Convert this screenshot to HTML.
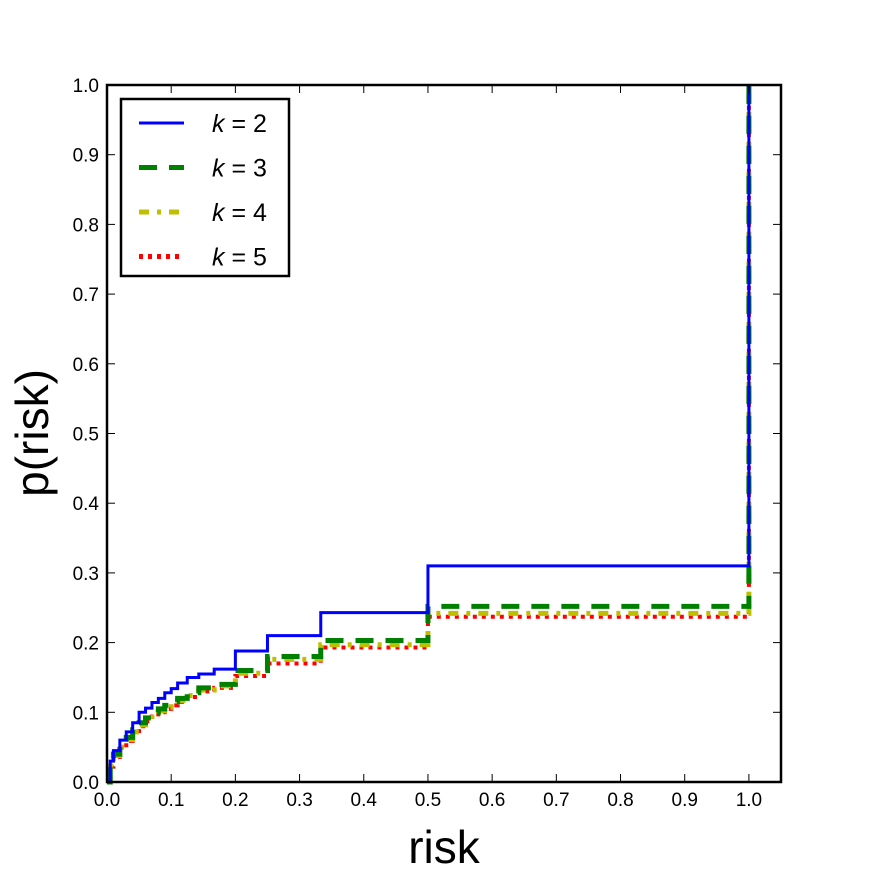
<!DOCTYPE html>
<html><head><meta charset="utf-8"><style>
body{margin:0;background:#fff;}
svg text{font-family:"Liberation Sans",sans-serif;}
</style></head><body>
<svg id="chart" width="869" height="871">
<g id="plot"></g>
</svg>
<script>
const xTicks=[0,0.1,0.2,0.3,0.4,0.5,0.6,0.7,0.8,0.9,1.0];
const yTicks=[0,0.1,0.2,0.3,0.4,0.5,0.6,0.7,0.8,0.9,1.0];
const seriesNames=["k=2","k=3","k=4","k=5"];
const xs2=[0,0.005,0.01,0.02,0.03,0.04,0.05,0.06,0.07,0.08,0.09,0.1,0.11,0.125,0.143,0.167,0.2,0.25,0.333,0.5,1.0];
const ys2=[0,0.03,0.045,0.06,0.072,0.085,0.1,0.106,0.114,0.12,0.128,0.134,0.142,0.15,0.155,0.162,0.188,0.21,0.243,0.31,1.0];
const xs3=[0,0.005,0.01,0.02,0.03,0.04,0.05,0.06,0.07,0.08,0.09,0.1,0.11,0.125,0.143,0.167,0.2,0.25,0.333,0.5,1.0];
const ys3=[0,0.025,0.04,0.052,0.064,0.075,0.085,0.092,0.1,0.105,0.11,0.115,0.12,0.128,0.135,0.14,0.16,0.18,0.203,0.252,1.0];
const xs4=[0,0.005,0.01,0.02,0.03,0.04,0.05,0.06,0.07,0.08,0.09,0.1,0.11,0.125,0.143,0.167,0.2,0.25,0.333,0.5,1.0];
const ys4=[0,0.023,0.038,0.05,0.061,0.072,0.082,0.09,0.097,0.102,0.107,0.112,0.117,0.124,0.132,0.138,0.156,0.176,0.197,0.242,1.0];
const xs5=[0,0.005,0.01,0.02,0.03,0.04,0.05,0.06,0.07,0.08,0.09,0.1,0.11,0.125,0.143,0.167,0.2,0.25,0.333,0.5,1.0];
const ys5=[0,0.022,0.036,0.048,0.059,0.07,0.08,0.087,0.094,0.1,0.105,0.11,0.115,0.122,0.13,0.135,0.152,0.17,0.193,0.237,1.0];
const allX=[xs2,xs3,xs4,xs5], allY=[ys2,ys3,ys4,ys5];
const colors=["#0000ff","#008000","#bfbf00","#ff0000"];
const dashes=["none","18,12","10,8,4,8","4,5"];
const widths=[3,5,5,4];
const L=107,R=781,T=85,B=782;
const xScale=v=>L+v/1.05*(R-L);
const yScale=v=>B-v*(B-T);
const NS="http://www.w3.org/2000/svg";
const g=document.getElementById('plot');
function mk(tag,attrs,parent){const e=document.createElementNS(NS,tag);for(const k in attrs)e.setAttribute(k,attrs[k]);(parent||g).appendChild(e);return e;}
for(let s=3;s>=0;s--){
 const X=allX[s],Y=allY[s];let d="M"+xScale(X[0])+","+yScale(Y[0]);
 for(let i=1;i<X.length;i++){d+=" L"+xScale(X[i])+","+yScale(Y[i-1])+" L"+xScale(X[i])+","+yScale(Y[i]);}
 const p=mk('path',{d:d,fill:'none',stroke:colors[s],'stroke-width':widths[s],'stroke-dasharray':dashes[s]});
 
 
}
const fr=mk('rect',{x:L,y:T,width:R-L,height:B-T,fill:'none',stroke:'#000','stroke-width':2.5});


xTicks.forEach(v=>{const x=xScale(v);
 mk('line',{x1:x,x2:x,y1:B,y2:B-8,stroke:'#000','stroke-width':1});
 mk('line',{x1:x,x2:x,y1:T,y2:T+8,stroke:'#000','stroke-width':1});
 const t=mk('text',{x:x,y:B+24,'text-anchor':'middle','font-size':19});t.textContent=v.toFixed(1);
 
 
});
yTicks.forEach(v=>{const y=yScale(v);
 mk('line',{x1:L,x2:L+8,y1:y,y2:y,stroke:'#000','stroke-width':1});
 mk('line',{x1:R,x2:R-8,y1:y,y2:y,stroke:'#000','stroke-width':1});
 const t=mk('text',{x:L-8,y:y+7,'text-anchor':'end','font-size':19});t.textContent=v.toFixed(1);
 
 
});
const xt=mk('text',{x:(L+R)/2,y:863,'text-anchor':'middle','font-size':46});xt.textContent='risk';


const yt=mk('text',{x:0,y:0,'text-anchor':'middle','font-size':46,transform:'translate(48,433) rotate(-90)'});yt.textContent='p(risk)';


const lg=mk('g',{});


mk('rect',{x:121,y:99,width:168,height:177,fill:'#fff',stroke:'#000','stroke-width':2.5},lg);
for(let s=0;s<4;s++){const y=123+s*44.5;
 mk('line',{x1:139,x2:184,y1:y,y2:y,stroke:colors[s],'stroke-width':widths[s]==3?3:5,'stroke-dasharray':dashes[s]},lg);
 const t=mk('text',{x:212,y:y+9,'font-size':25,'font-family':'Liberation Serif, serif'},lg);
 t.innerHTML='<tspan font-style="italic">k</tspan> = '+seriesNames[s].split('=')[1];
 
 
}
</script>
</body></html>
